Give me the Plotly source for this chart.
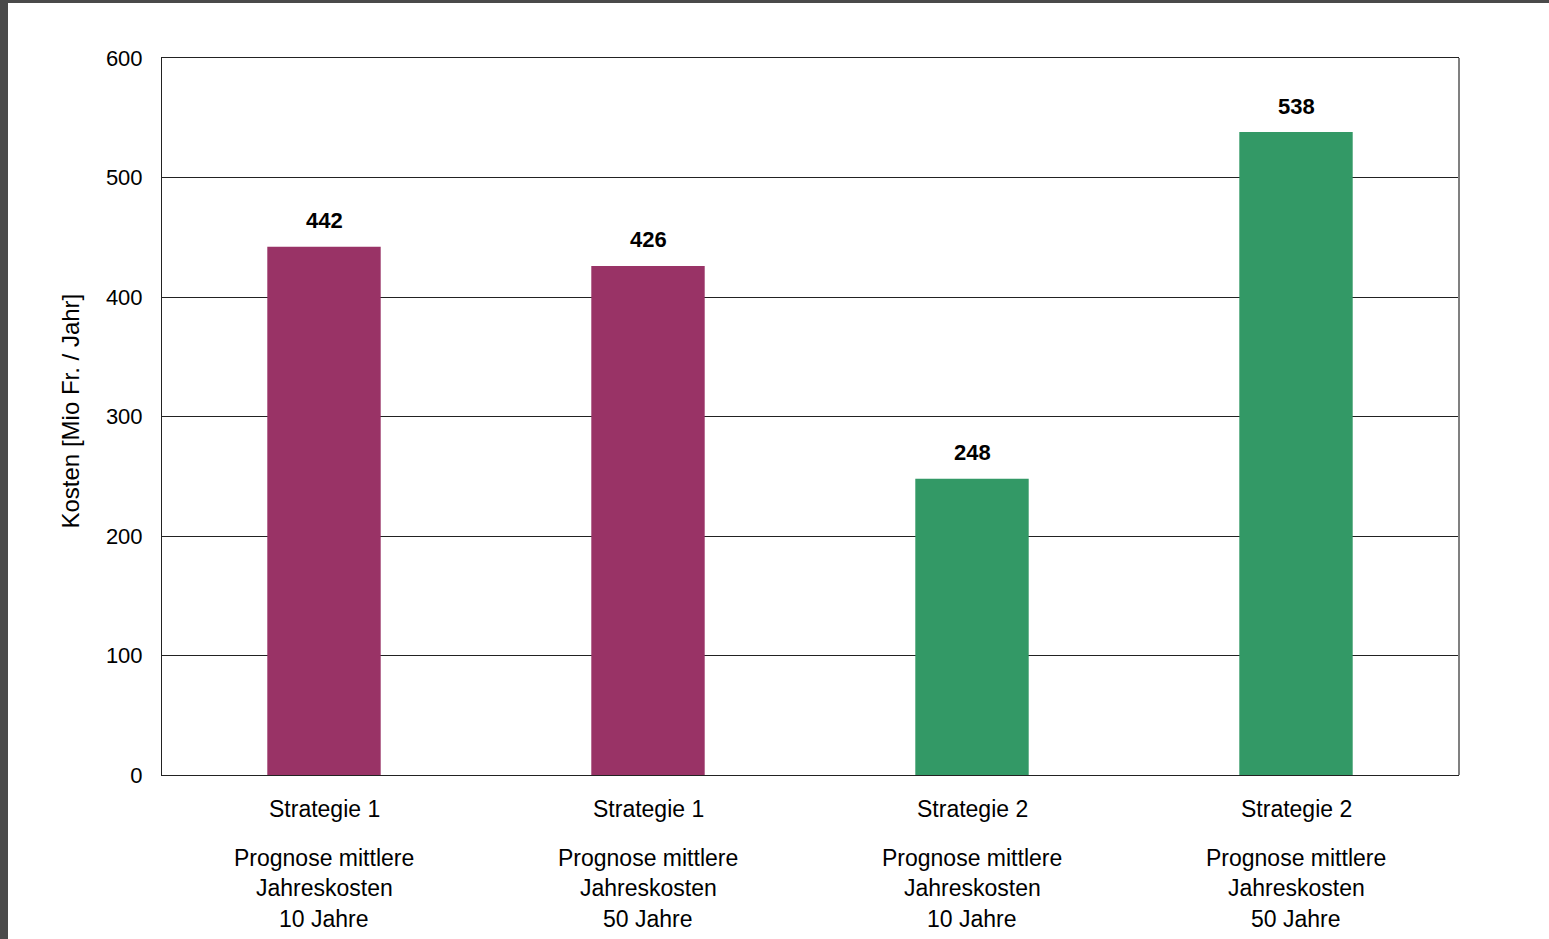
import plotly.graph_objects as go

categories = ["S1_10", "S1_50", "S2_10", "S2_50"]
strategies = ["Strategie 1", "Strategie 1", "Strategie 2", "Strategie 2"]
horizons = ["10 Jahre", "50 Jahre", "10 Jahre", "50 Jahre"]
values = [442, 426, 248, 538]
colors = ["#993366", "#993366", "#339966", "#339966"]
y_ticks = [0, 100, 200, 300, 400, 500, 600]

FONT = "Liberation Sans, Arial, sans-serif"
W, H = 1549, 939
L, R, T, B = 162, 91, 58, 164
pw, ph = W - L - R, H - T - B

fig = go.Figure()
fig.add_trace(go.Bar(
    x=categories, y=values, marker=dict(color=colors, line=dict(width=0)),
    width=0.35,
))

annotations = []
for c, v in zip(categories, values):
    annotations.append(dict(x=c, xref="x", y=v, yref="y", yanchor="middle", yshift=26,
                            text=f"<b>{v}</b>", showarrow=False,
                            font=dict(family=FONT, size=22, color="black")))
for c, s, h in zip(categories, strategies, horizons):
    for txt, off in [(s, 34), ("Prognose mittlere", 83), ("Jahreskosten", 113), (h, 144)]:
        annotations.append(dict(x=c, xref="x", y=0, yref="paper", yanchor="middle",
                                yshift=-off, text=txt, showarrow=False,
                                font=dict(family=FONT, size=23, color="black")))
annotations.append(dict(x=(70 - L) / pw, xref="paper", xanchor="center", y=0.5, yref="paper",
                        yanchor="middle", yshift=-(411.5 - (T + ph / 2)),
                        text="Kosten [Mio Fr. / Jahr]", textangle=-90, showarrow=False,
                        font=dict(family=FONT, size=24, color="black")))

shapes = [
    dict(type="rect", xref="paper", yref="paper", x0=(0 - L) / pw, x1=(8 - L) / pw,
         y0=-(H - T) / ph, y1=1 + T / ph, fillcolor="#4a4a4a", line=dict(width=0), layer="above"),
    dict(type="rect", xref="paper", yref="paper", x0=(0 - L) / pw, x1=(W - L) / pw,
         y0=1 + (T - 3) / ph, y1=1 + T / ph, fillcolor="#4a4a4a", line=dict(width=0), layer="above"),
    dict(type="line", xref="paper", yref="paper", x0=1 + 1 / pw, x1=1 + 1 / pw, y0=0, y1=1,
         line=dict(color="#808080", width=2)),
]

fig.update_layout(
    width=W, height=H, margin=dict(l=L, r=R, t=T, b=B),
    paper_bgcolor="white", plot_bgcolor="white", showlegend=False,
    font=dict(family=FONT, size=22, color="black"),
    annotations=annotations, shapes=shapes,
    xaxis=dict(showticklabels=False, showline=True, linecolor="#222", linewidth=1,
               mirror=True, showgrid=False, ticks=""),
    yaxis=dict(range=[0, 600], tickvals=y_ticks, showline=True, linecolor="#222",
               linewidth=1, mirror=True, showgrid=True, gridcolor="#222", gridwidth=1,
               ticks="", ticklabelstandoff=14, zeroline=False,
               tickfont=dict(family=FONT, size=22, color="black")),
)

fig.write_html("out.html")
